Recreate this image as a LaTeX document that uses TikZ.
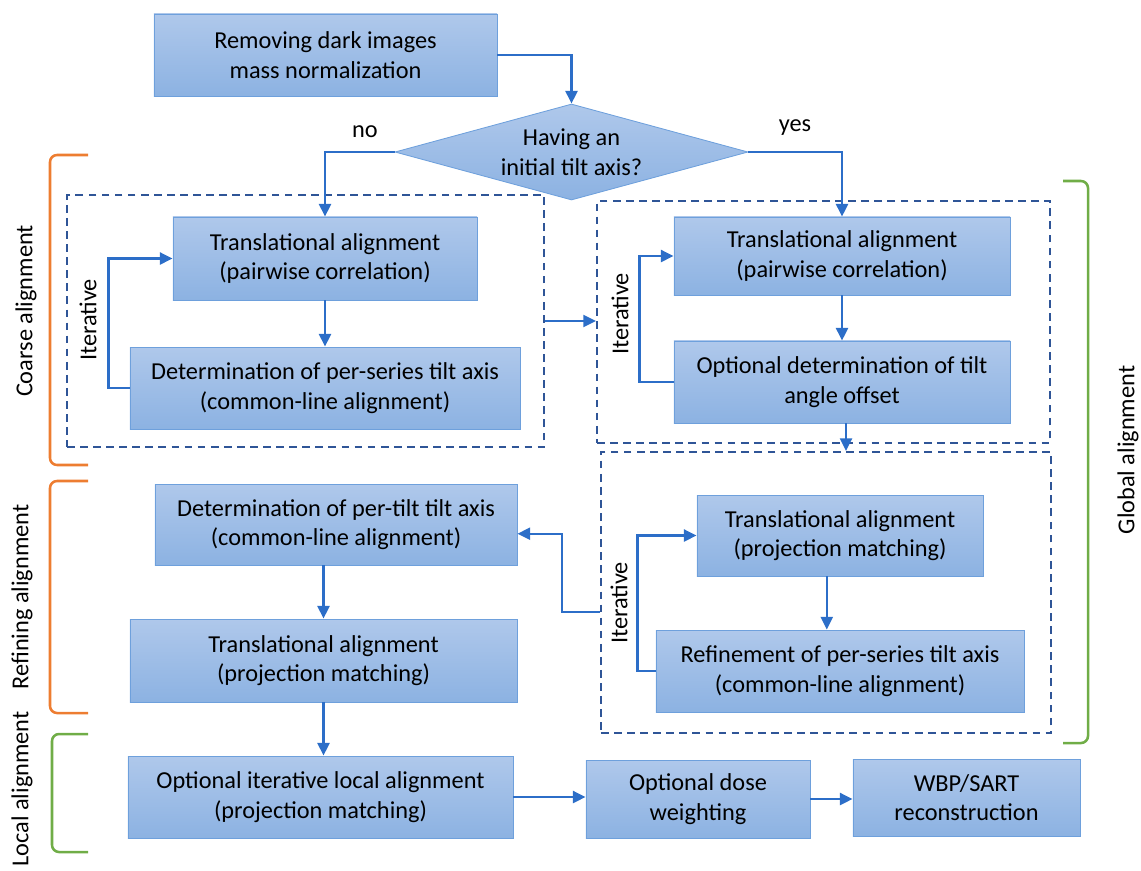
\documentclass[tikz,border=0pt]{standalone}
\usepackage{fontspec}
\setmainfont{Carlito}
\usetikzlibrary{arrows.meta,shapes.geometric}
\definecolor{vien}{RGB}{110,160,220}
\definecolor{tren}{RGB}{175,200,235}
\definecolor{duoi}{RGB}{140,178,226}
\definecolor{xanh}{RGB}{44,110,200}
\definecolor{khungmau}{RGB}{47,85,151}
\definecolor{cam}{RGB}{237,125,49}
\definecolor{luc}{RGB}{112,173,71}
\begin{document}
\begin{tikzpicture}[x=0.025cm,y=-0.025cm,
    chu/.style={font=\fontsize{17.3}{21}\selectfont},
    hop/.style={chu,draw=vien,line width=0.6pt,top color=tren,bottom color=duoi,align=center,inner sep=0pt},
    mui/.style={draw=xanh,line width=1.7pt,-{Triangle[length=9pt,width=8.5pt]}},
    khung/.style={draw=khungmau,line width=1.4pt,dash pattern=on 5.5pt off 3.8pt,inner sep=0pt},
    ngoac/.style={line width=1.8pt,rounded corners=5pt}]
    % Khung hình
    \useasboundingbox (0,0) rectangle (1141,870);

    % Các khung nét đứt
    \node[khung,minimum width=11.925cm,minimum height=6.3cm] (k1) at (305.5,321) {};
    \node[khung,minimum width=11.325cm,minimum height=6.05cm] (k2) at (823.5,322) {};
    \node[khung,minimum width=11.25cm,minimum height=7.025cm] (k3) at (826,592.5) {};

    % Các hộp
    \node[hop,minimum width=8.575cm,minimum height=2.05cm] (dau) at (325.5,55) {Removing dark images\\mass normalization};
    \node[hop,shape=diamond,aspect=3.7,minimum width=8.825cm,minimum height=2.4cm] (hoi) at (571.5,152) {Having an\\initial tilt axis?};
    \node[hop,minimum width=7.6cm,minimum height=2.075cm] (a1) at (325,258.5) {Translational alignment\\(pairwise correlation)};
    \node[hop,minimum width=9.75cm,minimum height=2.05cm] (a2) at (325,388) {Determination of per-series tilt axis\\(common-line alignment)};
    \node[hop,minimum width=8.4cm,minimum height=1.95cm] (b1) at (842,256) {Translational alignment\\(pairwise correlation)};
    \node[hop,minimum width=8.4cm,minimum height=2.05cm] (b2) at (842,382) {Optional determination of tilt\\angle offset};
    \node[hop,minimum width=7.15cm,minimum height=2.025cm] (c1) at (840,535.5) {Translational alignment\\(projection matching)};
    \node[hop,minimum width=9.2cm,minimum height=2.05cm] (c2) at (840,671) {Refinement of per-series tilt axis\\(common-line alignment)};
    \node[hop,minimum width=9.05cm,minimum height=2.025cm] (d1) at (336,524.5) {Determination of per-tilt tilt axis\\(common-line alignment)};
    \node[hop,minimum width=9.675cm,minimum height=2.075cm] (d2) at (323.5,660.5) {Translational alignment\\(projection matching)};
    \node[hop,minimum width=9.625cm,minimum height=2.05cm] (e1) at (320.5,797) {Optional iterative local alignment\\(projection matching)};
    \node[hop,minimum width=5.6cm,minimum height=1.95cm] (e2) at (698,799) {Optional dose\\weighting};
    \node[hop,minimum width=5.675cm,minimum height=1.925cm] (e3) at (966.5,797.5) {WBP/SART\\reconstruction};

    % Nhãn
    \node[chu] (khong) at (365,132) {no};
    \node[chu] (co) at (795,128) {yes};
    \node[chu,rotate=90] (lap1) at (88,320) {Iterative};
    \node[chu,rotate=90] (lap2) at (620,314) {Iterative};
    \node[chu,rotate=90] (lap3) at (619,603) {Iterative};

    % Các mũi tên
    \draw[mui] (dau.east) -| (hoi.north);
    \draw[mui] (hoi.west) -| (a1.north);
    \draw[mui] (hoi.east) -| (b1.north);
    \draw[mui] (a1.south) -- (a2.north);
    \draw[mui] (a2.west) -- ++(-21,0) |- (a1.west);
    \draw[mui] (k1.east) -- (k1.east -| k2.west);
    \draw[mui] (b1.south) -- (b2.north);
    \draw[mui] (b2.west) -- ++(-34,0) |- (b1.west);
    \draw[mui] ([xshift=0.1cm]b2.south) -- ([xshift=0.1cm]b2.south |- k3.north);
    \draw[mui] ([xshift=-0.33cm]c1.south) -- ([xshift=-0.33cm]c1.south |- c2.north);
    \draw[mui] (c2.west) -- ++(-18,0) |- (c1.west);
    \draw[mui] ([yshift=-0.49cm]k3.west) -- ++(-38,0) |- ([yshift=-0.23cm]d1.east);
    \draw[mui] (d2.north |- d1.south) -- (d2.north);
    \draw[mui] (d2.south) -- (d2.south |- e1.north);
    \draw[mui] (e1.east) -- (e1.east -| e2.west);
    \draw[mui] (e2.east) -- (e2.east -| e3.west);

    % Các dấu ngoặc
    \draw[ngoac,cam] (88,155) -- (50,155) -- (50,465) -- (88,465);
    \draw[ngoac,cam] (88,481) -- (50,481) -- (50,713) -- (88,713);
    \draw[ngoac,luc] (88,734) -- (52,734) -- (52,852) -- (88,852);
    \draw[ngoac,luc] (1063,181) -- (1088,181) -- (1088,743) -- (1063,743);
    \node[chu,rotate=90] (tho) at (26,311) {Coarse alignment};
    \node[chu,rotate=90] (tinh) at (22,597) {Refining alignment};
    \node[chu,rotate=90] (cucbo) at (22,789) {Local alignment};
    \node[chu,rotate=90] (toancuc) at (1128,450) {Global alignment};
\end{tikzpicture}
\end{document}
